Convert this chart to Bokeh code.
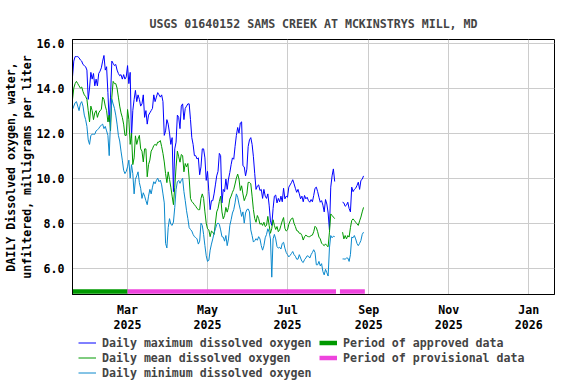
import numpy as np
import pandas as pd
from bokeh.plotting import figure
from bokeh.layouts import column
from bokeh.models import (ColumnDataSource, Range1d, FixedTicker, DatetimeTickFormatter,
                          NumeralTickFormatter, Legend, LegendItem)
from bokeh.embed import file_html
from bokeh.resources import INLINE

# ---------------- data ----------------
START_DATE = "2025-01-18"

max_do = [
    14.5, 15.2, 15.4, 15.4, 15.4, 15.35, 15.25, 15.2, 15.05, 15.0,
    14.95, 14.8, 13.5, 14.0, 14.7, 14.4, 14.65, 14.1, 14.4, 14.1,
    14.65, 14.75, 14.9, 15.2, 15.45, 14.8, 14.95, 13.8, 12.5, 13.6,
    15.2, 15.1, 15.0, 15.05, 14.8, 14.65, 14.55, 14.6, 14.4, 14.6,
    14.4, 14.5, 15.0, 14.2, 14.7, 11.8, 13.0, 13.5, 13.9, 13.4,
    13.7, 13.5, 13.2, 13.3, 13.7, 12.7, 13.0, 12.4, 12.8, 12.9,
    13.0, 13.1, 13.7, 13.4, 13.6, 13.8, 13.7, 13.6, 13.7, 13.4,
    11.9, 12.1, 12.6, 12.4, 12.0, 11.5, 11.8, 9.4, 11.3, 11.6,
    12.8, 12.7, 12.2, 13.2, 13.3, 12.6, 13.1, 13.2, 13.3, 13.3,
    12.6, 11.8, 11.5, 11.0, 11.0, 10.85, 10.9, 10.15, 10.5, 11.3,
    11.3, 10.9, 9.9, 10.3, 9.4, 8.6, 9.0, 9.0, 9.3, 9.7,
    10.1, 10.3, 11.1, 11.0, 8.9, 9.5, 9.4, 9.96, 9.5, 9.96,
    10.25, 10.6, 10.9, 10.84, 11.4, 11.9, 12.25, 12.0, 12.45, 12.5,
    10.55, 10.5, 10.1, 10.4, 11.4, 11.7, 11.8, 11.5, 10.95, 10.2,
    9.5, 9.65, 9.7, 9.45, 9.5, 9.1, 9.5, 9.2, 9.1, 9.3,
    8.8, 8.1, 7.9, 8.65, 9.2, 9.25, 8.9, 9.1, 8.95, 9.2,
    8.95, 9.55, 9.08, 9.2, 9.15, 9.6, 9.7, 9.8, 9.93, 9.75,
    9.55, 9.37, 9.5, 9.3, 9.08, 9.2, 8.95, 9.23, 9.08, 9.15,
    9.0, 8.93, 9.05, 8.95, 9.23, 9.55, 9.6, 9.4, 9.15, 8.93,
    9.0, 8.8, 8.5, 9.05, 8.85, 8.45, 7.7, 9.6, 10.1, 10.41,
    9.85, None, None, None, None, None, 8.93, 8.9, 8.75, 8.8,
    8.93, 8.65, 8.5, 9.6, 9.4, 9.5, 9.55, 9.67, 9.82, 9.5,
    9.9, 9.95, 10.1,
]

mean_do = [
    13.5, 14.0, 14.2, 14.3, 14.2, 14.1, 14.0, 14.05, 13.85, 13.7,
    13.63, 13.5, 13.0, 12.5, 13.2, 13.0, 12.6, 12.9, 13.0, 12.7,
    12.9, 13.0, 13.05, 13.6, 13.5, 13.2, 13.0, 12.5, 12.8, 12.1,
    13.6, 14.3, 14.2, 14.2, 14.0, 13.6, 13.2, 12.9, 12.7, 12.4,
    11.9, 11.9, 13.05, 12.6, 11.5, 12.0, 10.6, 10.9, 11.88, 11.5,
    11.74, 11.9, 11.3, 11.2, 10.72, 11.3, 11.3, 10.06, 10.6, 10.8,
    11.2, 11.3, 11.45, 11.5, 11.45, 11.6, 11.6, 11.67, 11.4, 11.1,
    10.72, 10.2, 9.8, 10.28, 9.95, 9.6, 9.2, 8.82, 9.6, 10.5,
    11.2, 10.95, 10.71, 11.05, 11.0, 10.28, 10.65, 10.5, 10.65, 9.99,
    9.1, 8.96, 8.9, 8.82, 8.75, 8.65, 8.6, 8.6, 9.1, 9.3,
    9.1, 8.5, 8.0, 7.75, 7.7, 7.4, 7.65, 7.6, 7.5, 8.0,
    8.5, 8.65, 8.96, 9.2, 8.5, 8.19, 8.34, 8.7, 8.49, 8.7,
    9.07, 9.2, 9.37, 9.5, 9.74, 10.0, 10.18, 9.96, 9.45, 9.66,
    9.3, 9.0, 9.15, 9.3, 9.81, 9.81, 9.75, 9.2, 8.6, 8.2,
    8.04, 8.34, 8.2, 7.95, 8.0, 7.9, 8.04, 7.85, 7.9, 8.3,
    7.9, 7.55, 7.77, 8.15, 7.9, 7.72, 7.85, 7.62, 7.7, 7.9,
    8.1, 8.25, 7.77, 7.65, 7.7, 7.95, 8.1, 8.2, 8.23, 7.99,
    7.85, 7.67, 7.65, 7.55, 7.55, 7.45, 7.25, 7.4, 7.47, 7.42,
    7.4, 7.4, 7.45, 7.47, 7.62, 7.86, 7.8, 7.62, 7.38, 7.3,
    7.11, 7.05, 7.0, 7.08, 7.0, 6.95, 7.6, 8.41, 8.34, 8.27,
    8.2, None, None, None, None, None, 7.6, 7.3, 7.45, 7.3,
    7.45, 7.38, 7.8, 8.12, 8.19, 8.12, 8.04, 7.97, 7.9, 8.1,
    8.27, 8.5, 8.7,
]

min_do = [
    13.05, 13.2, 13.35, 13.4, 13.2, 13.0, 13.3, 13.4, 13.2, 12.8,
    12.6, 12.3, 11.7, 11.5, 11.9, 11.95, 11.95, 11.95, 12.1, 12.15,
    12.2, 12.3, 12.35, 12.4, 12.2, 12.3, 12.1, 11.9, 11.0, 12.5,
    13.5, 13.3, 13.1, 12.8, 12.4, 11.9, 11.65, 11.2, 10.8, 10.35,
    10.2, 10.3, 10.5, 10.8, 10.0, 10.6, 10.2, 9.3, 9.95, 10.1,
    10.28, 9.8, 9.55, 9.1, 9.35, 9.2, 9.0, 8.82, 9.2, 9.5,
    9.3, 9.6, 9.84, 9.75, 9.9, 10.0, 9.84, 9.91, 9.7, 9.3,
    8.9, 7.1, 6.9, 7.8, 8.2, 7.95, 7.9, 8.05, 8.7, 9.5,
    9.84, 9.9, 9.77, 9.9, 9.99, 9.4, 9.0, 8.55, 8.2, 7.8,
    7.72, 7.65, 7.5, 7.4, 7.36, 7.3, 7.07, 7.2, 8.0, 7.9,
    7.5, 7.0, 6.55, 6.3, 6.35, 6.8, 7.07, 7.3, 7.55, 7.75,
    7.94, 8.01, 7.95, 7.7, 7.4, 7.38, 7.2, 7.45, 7.0, 7.3,
    7.9, 8.15, 8.45, 8.6, 8.9, 9.3, 9.15, 8.85, 8.6, 8.3,
    8.5, 8.0, 8.45, 8.6, 8.63, 8.5, 7.7, 7.45, 7.16, 7.22,
    7.31, 7.24, 7.4, 7.3, 7.0, 6.8, 7.0, 7.35, 7.5, 7.75,
    7.6, 7.3, 5.6, 7.3, 7.5, 7.3, 6.96, 6.89, 6.93, 6.85,
    7.1, 7.15, 6.89, 6.7, 6.6, 6.5, 6.57, 6.65, 6.74, 6.6,
    6.53, 6.4, 6.4, 6.6, 6.45, 6.3, 6.25, 6.38, 6.45, 6.55,
    6.53, 6.45, 6.6, 6.7, 6.82, 6.7, 6.15, 6.15, 6.3, 6.1,
    6.2, 5.85, 5.7, 5.95, 5.8, 5.65, 6.9, 7.45, 7.35, 7.42,
    7.4, None, None, None, None, None, 6.41, 6.41, 6.4, 6.45,
    6.45, 6.3, 6.6, 7.38, 7.35, 7.45, 7.3, 7.1, 7.0, 7.1,
    7.23, 7.5, 7.6,
]

approved_start = ["2025-01-18"]
approved_end = ["2025-03-01"]
provisional_start = ["2025-03-01", "2025-08-10"]
provisional_end = ["2025-08-07", "2025-08-29"]

y_ticks = [6, 8, 10, 12, 14, 16]
x_tick_dates = ["2025-03-01", "2025-05-01", "2025-07-01",
                "2025-09-01", "2025-11-01", "2026-01-01"]

title_text = "USGS 01640152 SAMS CREEK AT MCKINSTRYS MILL, MD"
y_label = "DAILY Dissolved oxygen, water,\nunfiltered, milligrams per liter"
legend_labels = ["Daily maximum dissolved oxygen", "Daily mean dissolved oxygen",
                 "Daily minimum dissolved oxygen", "Period of approved data",
                 "Period of provisional data"]

# ---------------- style ----------------
FONT = "DejaVu Sans Mono"
FSIZE = "11.6px"
C_MAX = "#0000ff"
C_MEAN = "#009900"
C_MIN = "#0a88cc"
C_APPROVED = "#009900"
C_PROV = "#ee44dd"
BAR_LEVEL = 4.96
BAR_W = 4.5

dates = pd.date_range(START_DATE, periods=len(max_do), freq="D")
src = ColumnDataSource(dict(
    date=dates,
    mx=np.array(max_do, dtype=float),
    mn=np.array(mean_do, dtype=float),
    lo=np.array(min_do, dtype=float),
))
appr = ColumnDataSource(dict(
    x0=pd.to_datetime(approved_start), x1=pd.to_datetime(approved_end),
    y=[BAR_LEVEL] * len(approved_start)))
prov = ColumnDataSource(dict(
    x0=pd.to_datetime(provisional_start), x1=pd.to_datetime(provisional_end),
    y=[BAR_LEVEL] * len(provisional_start)))

# ---------------- main chart ----------------
p = figure(width=576, height=334, x_axis_type="datetime",
           output_backend="svg", toolbar_location=None,
           x_range=Range1d(pd.Timestamp("2025-01-18"), pd.Timestamp("2026-01-20 16:00")),
           y_range=Range1d(4.83, 16.16),
           min_border_left=72, min_border_right=22, min_border_top=39,
           min_border_bottom=38)

p.title.text = title_text
p.title.align = "center"
p.title.text_font = FONT
p.title.text_font_style = "bold"
p.title.text_font_size = FSIZE
p.title.standoff = 18

p.line("date", "mx", source=src, color=C_MAX, line_width=1)
p.line("date", "mn", source=src, color=C_MEAN, line_width=1)
p.line("date", "lo", source=src, color=C_MIN, line_width=1)
p.segment(x0="x0", y0="y", x1="x1", y1="y", source=appr,
          color=C_APPROVED, line_width=BAR_W)
p.segment(x0="x0", y0="y", x1="x1", y1="y", source=prov,
          color=C_PROV, line_width=BAR_W)

xt = [pd.Timestamp(d).value // 10**6 for d in x_tick_dates]
p.xaxis.ticker = FixedTicker(ticks=xt)
p.xgrid.ticker = FixedTicker(ticks=xt)
fmt = "%b\n%Y"
p.xaxis.formatter = DatetimeTickFormatter(
    microseconds=fmt, milliseconds=fmt, seconds=fmt, minsec=fmt, minutes=fmt,
    hourmin=fmt, hours=fmt, days=fmt, months=fmt, years=fmt)
p.yaxis.ticker = FixedTicker(ticks=y_ticks)
p.ygrid.ticker = FixedTicker(ticks=y_ticks)
p.yaxis.formatter = NumeralTickFormatter(format="0.0")
p.yaxis.axis_label = y_label

for ax in (p.xaxis[0], p.yaxis[0]):
    ax.major_label_text_font = FONT
    ax.major_label_text_font_style = "bold"
    ax.major_label_text_font_size = FSIZE
    ax.major_label_text_color = "black"
    ax.major_label_text_line_height = 1.1
    ax.axis_label_text_font = FONT
    ax.axis_label_text_font_style = "bold"
    ax.axis_label_text_font_size = FSIZE
    ax.axis_label_text_color = "black"
    ax.axis_label_text_line_height = 1.1
    ax.major_tick_out = 0
    ax.major_tick_in = 0
    ax.minor_tick_out = 0
    ax.minor_tick_in = 0
    ax.axis_line_color = "black"
p.yaxis.major_label_standoff = 8
p.yaxis.axis_label_standoff = 0
p.xaxis.major_label_standoff = 8

for g in (p.xgrid[0], p.ygrid[0]):
    g.grid_line_color = "#cccccc"
    g.grid_line_width = 1

p.outline_line_color = "black"
p.outline_line_alpha = 1
p.outline_line_width = 1
p.background_fill_color = "white"
p.border_fill_color = "white"

# ---------------- legend strip ----------------
lf = figure(width=576, height=50, output_backend="svg", toolbar_location=None,
            x_range=Range1d(0, 1), y_range=Range1d(0, 1),
            x_axis_location=None, y_axis_location=None,
            min_border_left=0, min_border_right=0, min_border_top=0,
            min_border_bottom=0)
lf.outline_line_color = None
lf.grid.visible = False
lf.background_fill_color = "white"
lf.border_fill_color = "white"

# legend-key renderers: one undefined point each, so nothing is drawn in the strip
nokey = ColumnDataSource(dict(x=[float("nan")], y=[float("nan")]))
k_max = lf.line("x", "y", source=nokey, color=C_MAX, line_width=1)
k_mean = lf.line("x", "y", source=nokey, color=C_MEAN, line_width=1)
k_min = lf.line("x", "y", source=nokey, color=C_MIN, line_width=1)
k_appr = lf.line("x", "y", source=nokey, color=C_APPROVED, line_width=BAR_W)
k_prov = lf.line("x", "y", source=nokey, color=C_PROV, line_width=BAR_W)


def make_legend(items, loc):
    lg = Legend(items=items, location=loc, orientation="vertical")
    lg.label_text_font = FONT
    lg.label_text_font_style = "bold"
    lg.label_text_font_size = FSIZE
    lg.glyph_width = 18
    lg.glyph_height = 15
    lg.label_height = 15
    lg.label_standoff = 6
    lg.spacing = 0
    lg.padding = 0
    lg.margin = 0
    lg.border_line_color = None
    lg.background_fill_alpha = 0
    return lg


leg1 = make_legend([
    LegendItem(label=legend_labels[0], renderers=[k_max]),
    LegendItem(label=legend_labels[1], renderers=[k_mean]),
    LegendItem(label=legend_labels[2], renderers=[k_min]),
], (6, 4))
leg2 = make_legend([
    LegendItem(label=legend_labels[3], renderers=[k_appr]),
    LegendItem(label=legend_labels[4], renderers=[k_prov]),
], (247, 19))
lf.add_layout(leg1)
lf.add_layout(leg2)

layout = column(p, lf, spacing=0)
open("out.html", "w").write(file_html(layout, INLINE))
